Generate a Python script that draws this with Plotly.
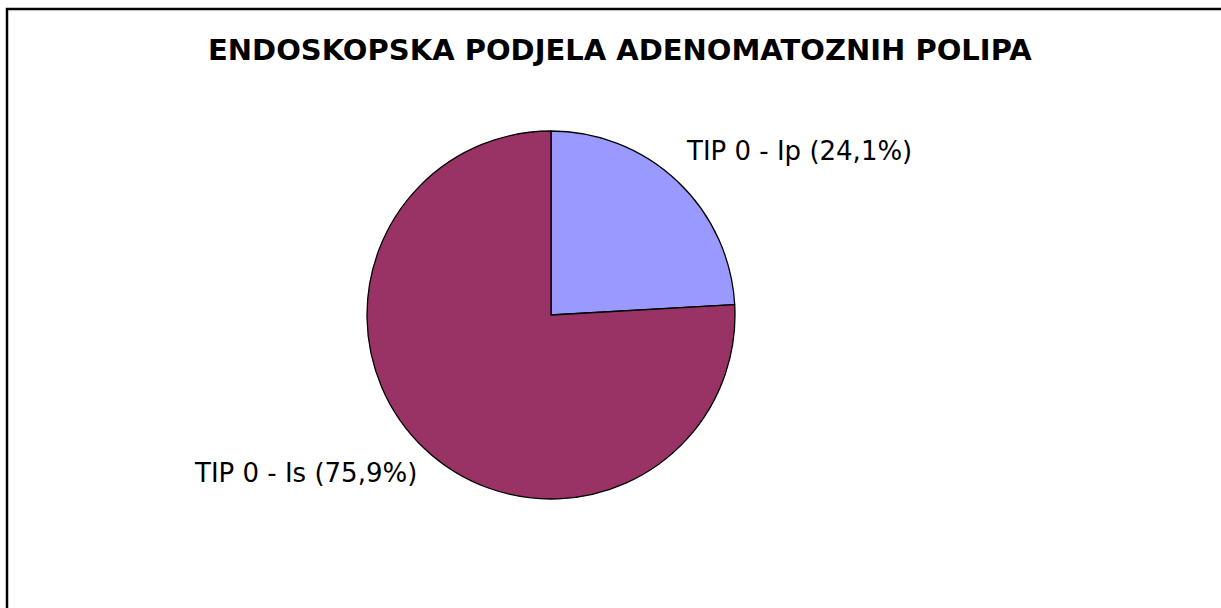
import plotly.graph_objects as go

labels = ["TIP 0 - Ip", "TIP 0 - Is"]
values = [24.1, 75.9]
colors = ["#9999FF", "#993366"]
title_text = "ENDOSKOPSKA PODJELA ADENOMATOZNIH POLIPA"

W, H = 1221, 608
cx, cy, r = 551, 315, 184

fig = go.Figure(go.Pie(
    labels=labels, values=values, sort=False, direction="clockwise", rotation=0,
    marker=dict(colors=colors, line=dict(color="black", width=1.3)),
    textinfo="none", hoverinfo="label+percent", showlegend=False,
    domain=dict(x=[(cx - r) / W, (cx + r) / W], y=[(H - cy - r) / H, (H - cy + r) / H]),
))

label_pos = [(798.5, 150.5), (305.5, 473)]
for lab, val, (px, py) in zip(labels, values, label_pos):
    fig.add_annotation(
        x=px / W, y=1 - py / H, xref="paper", yref="paper", showarrow=False,
        text=f"{lab} ({val:.1f}%)".replace(".", ","),
        font=dict(family="DejaVu Sans", size=26, color="black"),
        xanchor="center", yanchor="middle",
    )

fig.add_annotation(
    x=620 / W, y=1 - 50 / H, xref="paper", yref="paper", showarrow=False,
    text=f"<b>{title_text}</b>",
    font=dict(family="DejaVu Sans", size=29, color="black"),
    xanchor="center", yanchor="middle",
)

fig.add_shape(type="rect", xref="paper", yref="paper",
              x0=7 / W, x1=1.05, y0=-0.05, y1=1 - 9 / H,
              line=dict(color="black", width=2.5), fillcolor="rgba(0,0,0,0)")

fig.update_layout(width=W, height=H, margin=dict(l=0, r=0, t=0, b=0),
                  paper_bgcolor="white", plot_bgcolor="white")
fig.write_html("out.html", config={"displayModeBar": False},
               post_script="document.body.style.margin='0';document.body.style.overflow='hidden';")
